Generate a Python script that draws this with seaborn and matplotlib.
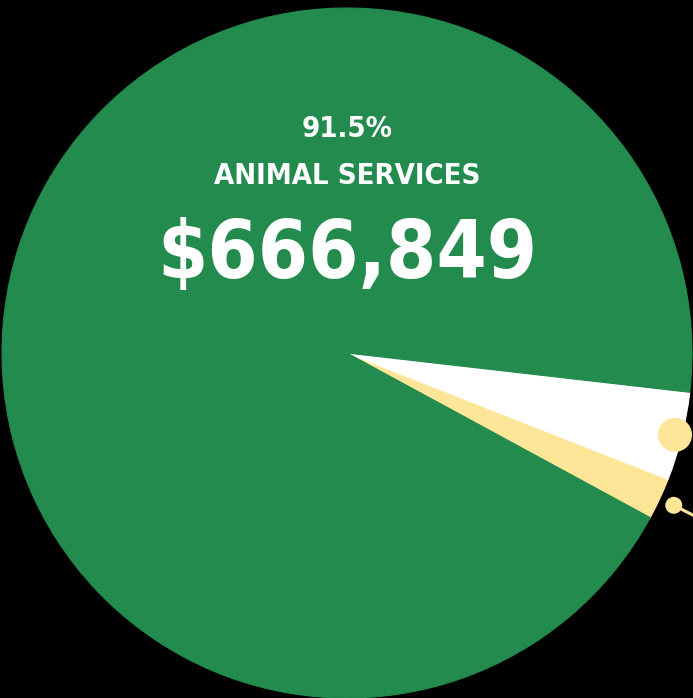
import numpy as np
import matplotlib.pyplot as plt
import seaborn as sns
from matplotlib.patches import Circle

# ── data (shares, counter-clockwise from the lower edge) ──
categories = ['Other', 'Support', 'Animal Services']
shares = [1.95, 4.15, 93.9]
colors = ['#FEE699', '#FFFFFF', '#228B4D']

label_pct = '91.5%'
label_name = 'ANIMAL SERVICES'
label_amount = '$666,849'

# ── layout (pixel units, figure is 693 x 698) ──
W, H = 693, 698
CX, CY, R = 347, H - 353, 345
START = -28.5

sns.set_style('dark', {'axes.facecolor': 'black', 'figure.facecolor': 'black'})
plt.rcParams['font.family'] = ['DejaVu Sans']

fig = plt.figure(figsize=(W / 100, H / 100), dpi=100)
ax = fig.add_axes([0, 0, 1, 1])
ax.set_facecolor('black')

wedges, _ = ax.pie(shares, colors=colors, startangle=START, counterclock=True,
                   center=(CX, CY), radius=R,
                   wedgeprops={'linewidth': 0.8, 'antialiased': True})
# edge in the wedge's own colour hides the dark seams between slices
for w, c in zip(wedges, colors):
    w.set_edgecolor(c)

# label dots at the middle of the two small slices
mid = [np.deg2rad((w.theta1 + w.theta2) / 2) for w in wedges[:2]]
# white slice: big dot just inside the rim
a = mid[1]
ax.add_patch(Circle((CX + 0.98 * R * np.cos(a), CY + 0.98 * R * np.sin(a)), 17,
                    color='#FEE699', lw=0, zorder=5))
# yellow slice: small dot outside the rim with a leader line
a = mid[0]
px, py = CX + 1.045 * R * np.cos(a), CY + 1.045 * R * np.sin(a)
ax.add_patch(Circle((px, py), 8.5, color='#FEE699', lw=0, zorder=5))
la = np.deg2rad(-27)
ax.plot([px, px + 80 * np.cos(la)], [py, py + 80 * np.sin(la)],
        color='#FEE699', lw=2.2, solid_capstyle='butt', zorder=4)

# centre labels
txt = dict(ha='center', va='baseline', color='white', fontweight='bold',
           fontstretch='condensed')
ax.text(CX, H - 137, label_pct, fontsize=21, **txt)
ax.text(CX, H - 184, label_name, fontsize=21, **txt)
ax.text(CX, H - 278, label_amount, fontsize=58, **txt)

ax.set_xlim(0, W)
ax.set_ylim(0, H)
ax.set_aspect('equal')
ax.axis('off')

fig.savefig('out.png', dpi=100, facecolor='black')
